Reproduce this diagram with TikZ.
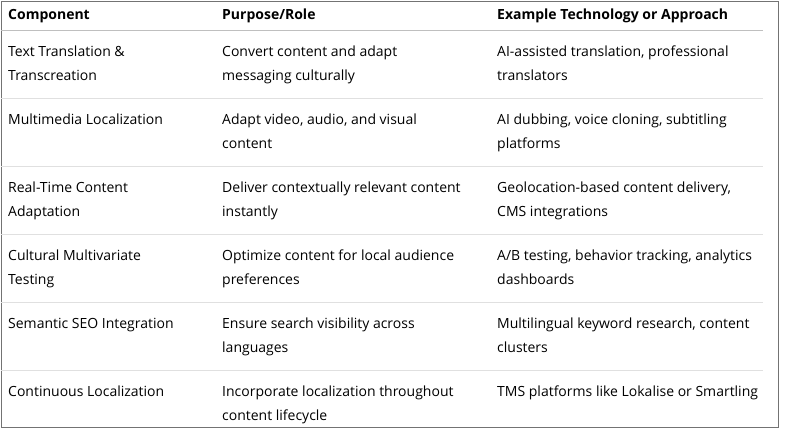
\documentclass[tikz,border=0pt]{standalone}
\usepackage{fontspec}
\setmainfont{Open Sans}
\begin{document}
\begin{tikzpicture}[x=1pt,y=-1pt,
    cell/.style={anchor=north west,inner sep=0pt,align=left,font=\fontsize{14}{24}\selectfont},
    headcell/.style={cell,font=\fontsize{14}{24}\selectfont\bfseries},
    rule/.style={draw=black!12,line width=0.8pt}]
    \useasboundingbox (0,0) rectangle (787,437);
    \draw[black!55,line width=0.9pt] (1,1) rectangle (778,427);

    % header
    \node[headcell] (h1) at (8,9) {Component};
    \node[headcell] (h2) at (222,9) {Purpose/Role};
    \node[headcell] (h3) at (497,9) {Example Technology or Approach};
    \draw[rule,draw=black!25] (1,30) -- (763,30);

    % rows
    \foreach \i/\a/\b/\c in {
        1/{Text Translation \&\\Transcreation}/{Convert content and adapt\\messaging culturally}/{AI-assisted translation, professional\\translators},
        2/{Multimedia Localization}/{Adapt video, audio, and visual\\content}/{AI dubbing, voice cloning, subtitling\\platforms},
        3/{Real-Time Content\\Adaptation}/{Deliver contextually relevant content\\instantly}/{Geolocation-based content delivery,\\CMS integrations},
        4/{Cultural Multivariate\\Testing}/{Optimize content for local audience\\preferences}/{A/B testing, behavior tracking, analytics\\dashboards},
        5/{Semantic SEO Integration}/{Ensure search visibility across\\languages}/{Multilingual keyword research, content\\clusters},
        6/{Continuous Localization}/{Incorporate localization throughout\\content lifecycle}/{TMS platforms like Lokalise or Smartling}}{
        \node[cell] (a\i) at (8,{46+68*(\i-1)}) {\a};
        \node[cell] (b\i) at (222,{46+68*(\i-1)}) {\b};
        \node[cell] (c\i) at (497,{46+68*(\i-1)}) {\c};
    }
    \foreach \i in {1,...,5}
        \draw[rule] (1,{30+68*\i}) -- (763,{30+68*\i});
\end{tikzpicture}
\end{document}
